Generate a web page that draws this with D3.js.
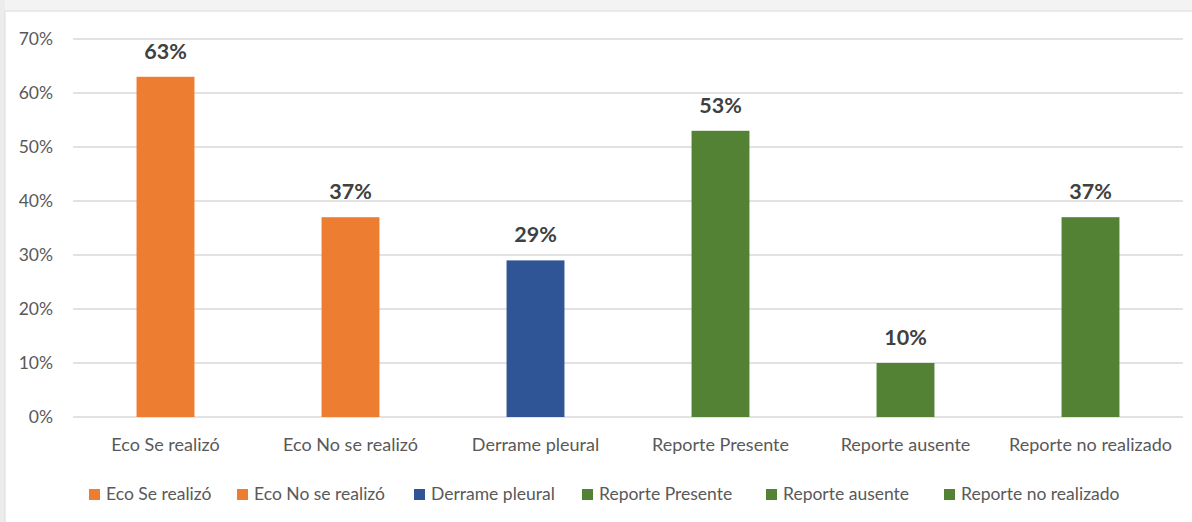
<!DOCTYPE html>
<html>
<head>
<meta charset="utf-8">
<script src="https://cdn.jsdelivr.net/npm/d3@7/dist/d3.min.js"></script>
<style>
  html, body { margin: 0; padding: 0; background: #fff; }
  svg { display: block; font-family: Lato, "Open Sans", sans-serif; }
</style>
</head>
<body>
<svg id="chart" width="1192" height="522"></svg>
<script>
// Categories, values (%) and colours of each bar
const categories = ["Eco Se realizó", "Eco No se realizó", "Derrame pleural", "Reporte Presente", "Reporte ausente", "Reporte no realizado"];
const values = [63, 37, 29, 53, 10, 37];
const colors = ["#ED7D31", "#ED7D31", "#2F5597", "#548235", "#548235", "#548235"];
const yTicks = [0, 10, 20, 30, 40, 50, 60, 70];

const svg = d3.select("#chart");
const W = 1192, H = 522;

// Frame: light shaded strip at top and left edge
svg.append("rect").attr("x", 0).attr("y", 0).attr("width", W).attr("height", 11).attr("fill", "#f3f3f3");
svg.append("line").attr("x1", 4).attr("x2", W).attr("y1", 11).attr("y2", 11).attr("stroke", "#e4e4e4").attr("stroke-width", 1.5);
svg.append("rect").attr("x", 0).attr("y", 0).attr("width", 5).attr("height", H).attr("fill", "#ececec");
svg.append("line").attr("x1", 5).attr("x2", 5).attr("y1", 11).attr("y2", H).attr("stroke", "#dcdcdc").attr("stroke-width", 1);

const plotLeft = 73, plotRight = 1183, plotTop = 39, plotBottom = 417;

const x = d3.scaleBand().domain(categories).range([plotLeft, plotRight]).paddingInner(0.687).paddingOuter(0.3435);
const y = d3.scaleLinear().domain([0, 70]).range([plotBottom, plotTop]);

// Gridlines
svg.append("g").selectAll("line").data(yTicks).join("line")
  .attr("x1", plotLeft).attr("x2", plotRight)
  .attr("y1", d => y(d)).attr("y2", d => y(d))
  .attr("stroke", "#d9d9d9").attr("stroke-width", 1.5);

// Y axis labels
const yAxis = d3.axisLeft(y).tickValues(yTicks).tickFormat(d => d + "%").tickSize(0).tickPadding(0);
const gy = svg.append("g").attr("transform", `translate(${plotLeft - 20},0)`).call(yAxis);
gy.select(".domain").remove();
gy.selectAll("text").attr("font-size", 17.5).attr("fill", "#595959").attr("font-family", "Lato, sans-serif");

// Bars
svg.append("g").selectAll("rect").data(values).join("rect")
  .attr("x", (d, i) => x(categories[i]))
  .attr("y", d => y(d))
  .attr("width", x.bandwidth())
  .attr("height", d => y(0) - y(d))
  .attr("fill", (d, i) => colors[i]);

// Value labels
svg.append("g").selectAll("text").data(values).join("text")
  .attr("x", (d, i) => x(categories[i]) + x.bandwidth() / 2)
  .attr("y", d => y(d) - 18)
  .attr("text-anchor", "middle")
  .attr("font-size", 21.5).attr("font-weight", "bold").attr("fill", "#404040")
  .text(d => d + "%");

// X axis labels
const xAxis = d3.axisBottom(x).tickSize(0).tickPadding(0);
const gx = svg.append("g").attr("transform", `translate(0,${plotBottom + 21})`).call(xAxis);
gx.select(".domain").remove();
gx.selectAll("text").attr("font-size", 18).attr("fill", "#595959").attr("font-family", "Lato, sans-serif");

// Legend
const legendX = [89, 237, 414, 582, 766, 944];
const lg = svg.append("g").selectAll("g").data(categories).join("g")
  .attr("transform", (d, i) => `translate(${legendX[i]},494)`);
lg.append("rect").attr("x", 0).attr("y", -5).attr("width", 11).attr("height", 11).attr("fill", (d, i) => colors[i]);
lg.append("text").attr("x", 17).attr("y", 0).attr("dy", "0.35em")
  .attr("font-size", 17.5).attr("fill", "#595959").text(d => d);
</script>
</body>
</html>
